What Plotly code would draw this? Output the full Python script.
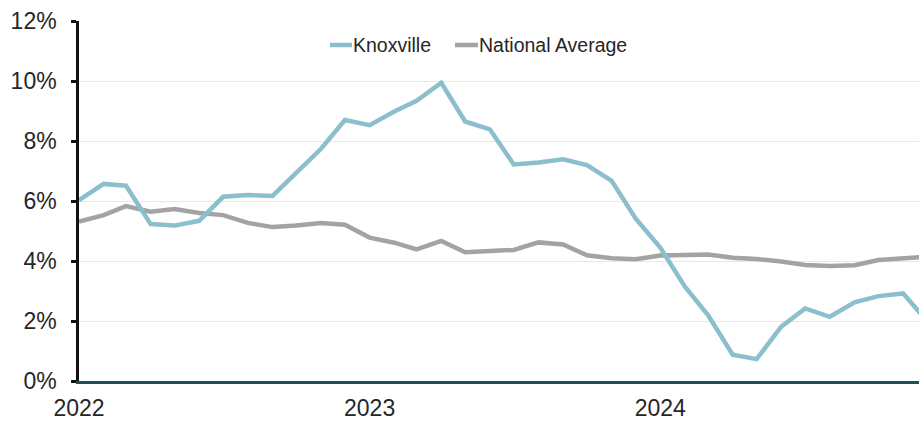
import plotly.graph_objects as go
import pandas as pd

# Monthly year-over-year change, Jan 2022 - Dec 2024
months = pd.date_range("2022-01-01", "2024-12-01", freq="MS")

knoxville = [
    6.03, 6.57, 6.51, 5.23, 5.18, 5.34, 6.14, 6.20, 6.17, 6.95, 7.74, 8.70,
    8.53, 8.98, 9.34, 9.94, 8.65, 8.39, 7.22, 7.28, 7.39, 7.20, 6.67, 5.42,
    4.45, 3.14, 2.20, 0.88, 0.73, 1.81, 2.42, 2.14, 2.62, 2.83, 2.92, 2.00,
]
national_average = [
    5.31, 5.53, 5.83, 5.64, 5.73, 5.60, 5.53, 5.27, 5.13, 5.18, 5.27, 5.21,
    4.78, 4.61, 4.39, 4.67, 4.29, 4.33, 4.37, 4.62, 4.55, 4.19, 4.09, 4.06,
    4.18, 4.20, 4.22, 4.11, 4.07, 3.98, 3.87, 3.83, 3.86, 4.03, 4.09, 4.14,
]

y_ticks = [0, 2, 4, 6, 8, 10, 12]
y_labels = [f"{v}%" for v in y_ticks]
year_ticks = ["2022-01-01", "2023-01-01", "2024-01-01"]
year_labels = ["2022", "2023", "2024"]

KNOX_COLOR = "#8cbfcd"
NAT_COLOR = "#a3a3a3"
FONT = "Liberation Sans, Arial, sans-serif"

fig = go.Figure()
fig.add_trace(go.Scatter(x=months, y=national_average, mode="lines",
                         name="National Average",
                         line=dict(color=NAT_COLOR, width=4.5)))
fig.add_trace(go.Scatter(x=months, y=knoxville, mode="lines",
                         name="Knoxville",
                         line=dict(color=KNOX_COLOR, width=4.5)))

# Legend drawn as line samples plus labels across the top of the plot
W, H = 840.0, 360.0
def px_x(p):
    return (p - 79) / W
def px_y(p):
    return (381 - p) / H

legend_items = [("Knoxville", KNOX_COLOR, 330, 352),
                ("National Average", NAT_COLOR, 455, 478)]
for label, color, x0, x1 in legend_items:
    fig.add_shape(type="line", xref="paper", yref="paper",
                  x0=px_x(x0), x1=px_x(x1), y0=px_y(45), y1=px_y(45),
                  line=dict(color=color, width=4.5))
    fig.add_annotation(xref="paper", yref="paper", x=px_x(x1), y=px_y(45),
                       text=label, showarrow=False, xanchor="left",
                       yanchor="middle", xshift=-1,
                       font=dict(family=FONT, size=19.5, color="#262626"))

fig.update_layout(
    width=919, height=423,
    margin=dict(l=79, r=0, t=21, b=42),
    paper_bgcolor="white", plot_bgcolor="white",
    showlegend=False,
    font=dict(family=FONT, size=23, color="#262626"),
)
fig.update_xaxes(
    type="date",
    range=["2022-01-01", "2024-11-21"],
    tickmode="array", tickvals=year_ticks, ticktext=year_labels,
    showgrid=False, ticks="",
    showline=True, linecolor="#1f4f5c", linewidth=3,
    ticklabelstandoff=4,
    tickfont=dict(size=23),
)
fig.update_yaxes(
    range=[0, 12],
    tickmode="array", tickvals=y_ticks, ticktext=y_labels,
    showgrid=True, gridcolor="#e8e8e8", gridwidth=1,
    zeroline=False,
    showline=True, linecolor="#111111", linewidth=2.5,
    ticks="outside", ticklen=5, tickwidth=2.5, tickcolor="#111111",
    ticklabelstandoff=10,
    tickfont=dict(size=23),
)

fig.write_html("out.html")
